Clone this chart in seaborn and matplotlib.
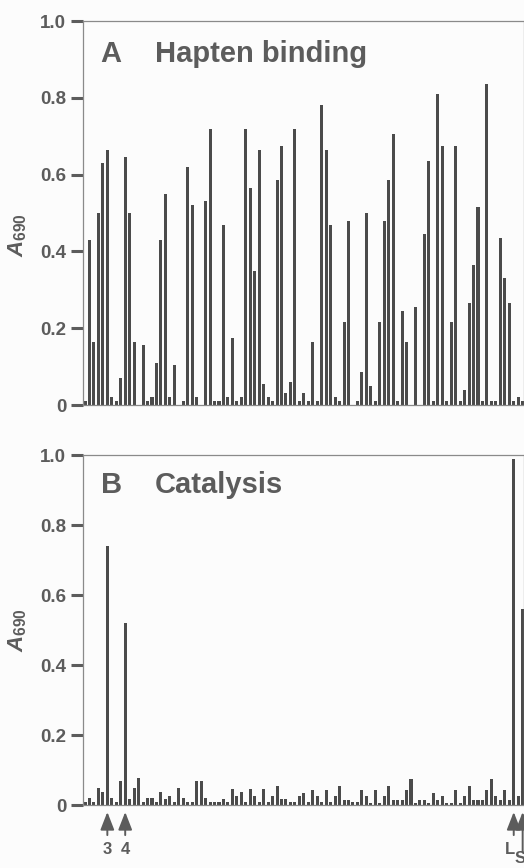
import numpy as np
import pandas as pd
import seaborn as sns
import matplotlib
matplotlib.use("Agg")
import matplotlib.pyplot as plt

# values, one per clone (99 wells)
hapten = [0.01, 0.43, 0.165, 0.50, 0.63, 0.665, 0.02, 0.01, 0.07, 0.645,
          0.50, 0.165, 0.0, 0.155, 0.01, 0.02, 0.11, 0.43, 0.55, 0.02,
          0.105, 0.0, 0.01, 0.62, 0.52, 0.02, 0.0, 0.53, 0.72, 0.01,
          0.01, 0.47, 0.02, 0.175, 0.01, 0.02, 0.72, 0.565, 0.35, 0.665,
          0.055, 0.02, 0.01, 0.585, 0.675, 0.03, 0.06, 0.72, 0.01, 0.03,
          0.01, 0.165, 0.01, 0.78, 0.665, 0.47, 0.02, 0.01, 0.215, 0.48,
          0.0, 0.01, 0.085, 0.50, 0.05, 0.01, 0.215, 0.48, 0.585, 0.705,
          0.01, 0.245, 0.165, 0.0, 0.255, 0.0, 0.445, 0.635, 0.01, 0.81,
          0.675, 0.01, 0.215, 0.675, 0.01, 0.04, 0.265, 0.365, 0.515, 0.01,
          0.835, 0.01, 0.01, 0.435, 0.33, 0.265, 0.01, 0.02, 0.01]

catalysis = [0.008, 0.019, 0.008, 0.048, 0.038, 0.74, 0.019, 0.008, 0.068, 0.52,
             0.017, 0.048, 0.077, 0.008, 0.019, 0.019, 0.008, 0.036, 0.017, 0.027,
             0.008, 0.048, 0.019, 0.008, 0.008, 0.068, 0.068, 0.019, 0.008, 0.008,
             0.008, 0.017, 0.008, 0.046, 0.025, 0.036, 0.008, 0.046, 0.025, 0.008,
             0.046, 0.008, 0.025, 0.055, 0.017, 0.017, 0.008, 0.008, 0.025, 0.034,
             0.008, 0.044, 0.025, 0.008, 0.044, 0.008, 0.025, 0.055, 0.015, 0.015,
             0.008, 0.008, 0.044, 0.025, 0.005, 0.044, 0.005, 0.025, 0.053, 0.014,
             0.014, 0.014, 0.044, 0.074, 0.005, 0.014, 0.014, 0.005, 0.034, 0.014,
             0.025, 0.005, 0.005, 0.044, 0.005, 0.025, 0.053, 0.014, 0.014, 0.014,
             0.044, 0.074, 0.025, 0.014, 0.044, 0.014, 0.99, 0.025, 0.56]

panel_letters = ["A", "B"]
panel_titles = ["Hapten binding", "Catalysis"]
y_ticks = [0, 0.2, 0.4, 0.6, 0.8, 1.0]
y_tick_labels = ["0", "0.2", "0.4", "0.6", "0.8", "1.0"]

# marked clones in panel B: (bar index, label)
marked = [(5, "3"), (9, "4"), (96, "L"), (98, "S")]

GREY_TXT = "#5c5c5c"
BAR = "#4b4b4b"

sns.set_theme(style="white")
plt.rcParams["font.family"] = ["Liberation Sans", "DejaVu Sans"]
plt.rcParams["font.weight"] = "bold"
plt.rcParams["mathtext.fontset"] = "custom"
plt.rcParams["mathtext.it"] = "Liberation Sans:italic"
plt.rcParams["mathtext.rm"] = "Liberation Sans"

W, H = 524, 868
fig = plt.figure(figsize=(W / 100, H / 100), dpi=100)
fig.patch.set_facecolor("#fcfcfc")

axA = fig.add_axes([83 / W, 1 - 405 / H, 441 / W, 384 / H])
axB = fig.add_axes([83 / W, 1 - 805 / H, 441 / W, 350 / H])

df = pd.DataFrame({"clone": np.arange(len(hapten)),
                   "hapten": hapten, "catalysis": catalysis})

for ax, col, letter, title in zip([axA, axB], ["hapten", "catalysis"],
                                  panel_letters, panel_titles):
    sns.barplot(data=df, x="clone", y=col, ax=ax, color=BAR,
                saturation=1, width=0.68, errorbar=None, linewidth=0)
    ax.set_facecolor("#fcfcfc")
    ax.set_xlim(-0.45, 98.3)
    ax.set_ylim(0, 1.0)
    ax.set_xticks([])
    ax.set_xlabel("")
    ax.set_ylabel("")
    ax.set_yticks(y_ticks)
    ax.set_yticklabels(y_tick_labels)
    ax.tick_params(axis="y", left=True, direction="out", length=9, width=2.2,
                   color=GREY_TXT, labelcolor=GREY_TXT, labelsize=13.5, pad=3)
    for lab in ax.get_yticklabels():
        lab.set_fontweight("bold")
    for s in ax.spines.values():
        s.set_visible(True)
        s.set_color("#8a8a8a")
        s.set_linewidth(0.9)
    ax.text(0.04, 0.915, letter, transform=ax.transAxes, fontsize=21,
            fontweight="bold", color=GREY_TXT, va="center", ha="left")
    ax.text(0.163, 0.915, title, transform=ax.transAxes, fontsize=21,
            fontweight="bold", color=GREY_TXT, va="center", ha="left")

# y axis labels
fig.text(18 / W, 1 - 235 / H, r"$\mathit{A}_{\mathrm{690}}$", rotation=90,
         fontsize=16, color=GREY_TXT, ha="center", va="center")
fig.text(18 / W, 1 - 630 / H, r"$\mathit{A}_{\mathrm{690}}$", rotation=90,
         fontsize=16, color=GREY_TXT, ha="center", va="center")

# arrows under the marked clones
tr = axB.get_xaxis_transform()
for idx, lab in marked:
    tail = -0.135 if lab == "S" else -0.086
    ytxt = -0.152 if lab == "S" else -0.126
    axB.annotate("", xy=(idx, -0.02), xycoords=tr, xytext=(idx, tail),
                 textcoords=tr, annotation_clip=False,
                 arrowprops=dict(arrowstyle="-|>,head_length=0.9,head_width=0.35",
                                 color=GREY_TXT, lw=1.4, shrinkA=0, shrinkB=0))
    dx = {"L": -0.8, "S": -0.6}.get(lab, 0)
    axB.text(idx + dx, ytxt, lab, transform=tr, fontsize=12, fontweight="bold",
             color=GREY_TXT, ha="center", va="center", clip_on=False)

fig.savefig("out.png", dpi=100, facecolor=fig.get_facecolor())
